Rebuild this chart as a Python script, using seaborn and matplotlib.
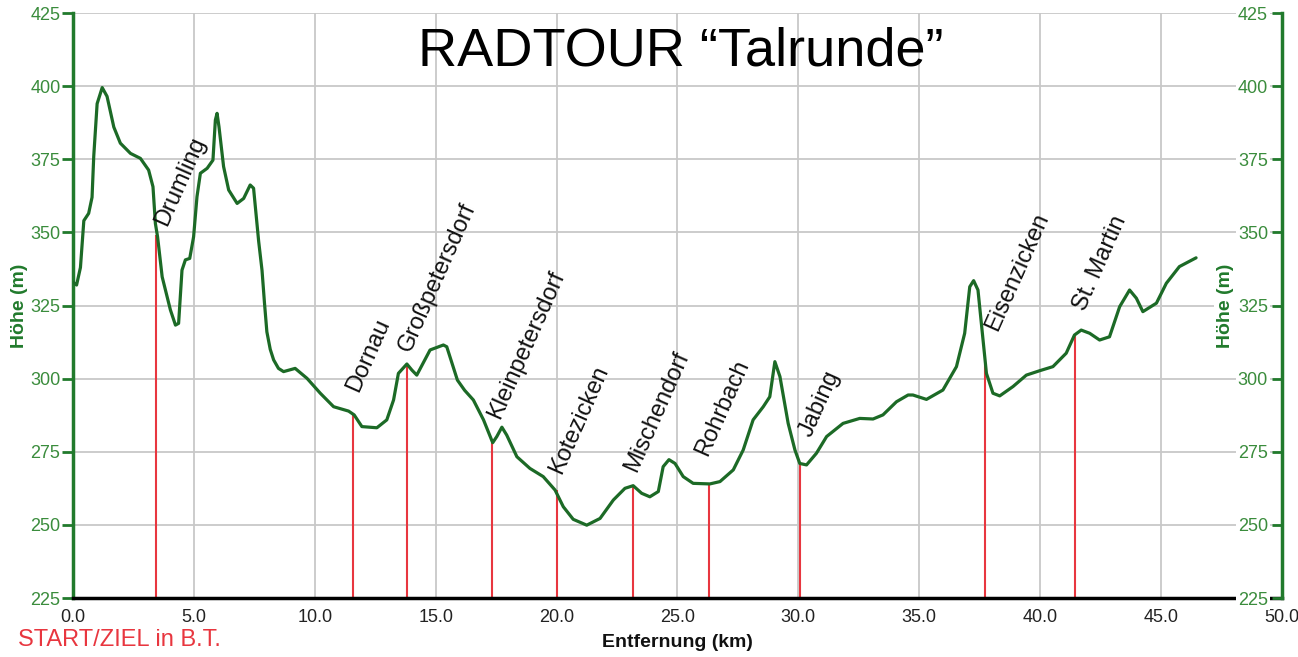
import matplotlib
matplotlib.use('Agg')
import matplotlib.pyplot as plt
from matplotlib import font_manager
import numpy as np
import pandas as pd
import seaborn as sb

sb.set_style("white")
plt.rcParams['font.family'] = ['Liberation Sans', 'DejaVu Sans']

# elevation profile (km, m)
dist_km = [0.0, 0.15, 0.31, 0.45, 0.65, 0.79, 0.86, 1.0, 1.21, 1.41, 1.69, 1.96,
           2.38, 2.79, 3.13, 3.31, 3.41, 3.5, 3.69, 4.03, 4.24, 4.37, 4.51, 4.65,
           4.83, 4.99, 5.13, 5.27, 5.55, 5.79, 5.89, 5.96, 6.04, 6.23, 6.44, 6.79,
           7.06, 7.33, 7.47, 7.61, 7.68, 7.82, 7.92, 8.02, 8.16, 8.3, 8.5, 8.71,
           9.19, 9.68, 10.23, 10.78, 11.4, 11.63, 11.95, 12.57, 12.98, 13.26, 13.46,
           13.81, 14.02, 14.22, 14.77, 15.32, 15.46, 15.9, 16.2, 16.56, 16.98, 17.36,
           17.53, 17.74, 17.94, 18.36, 18.9, 19.45, 19.94, 20.28, 20.69, 21.25, 21.8,
           22.35, 22.83, 23.17, 23.52, 23.86, 24.21, 24.41, 24.65, 24.9, 25.24, 25.65,
           26.34, 26.76, 27.31, 27.72, 28.13, 28.55, 28.82, 29.03, 29.24, 29.58, 29.86,
           30.06, 30.34, 30.75, 31.17, 31.85, 32.54, 33.09, 33.5, 34.06, 34.54, 34.74,
           35.3, 35.98, 36.54, 36.88, 37.09, 37.25, 37.43, 37.64, 37.78, 38.05, 38.33,
           38.88, 39.43, 39.98, 40.53, 41.08, 41.42, 41.7, 42.05, 42.46, 42.87, 43.29,
           43.7, 43.98, 44.25, 44.81, 45.22, 45.76, 46.45]
hoehe_m = [333, 332, 338, 354, 356.5, 362, 376, 394, 399.5, 396.5, 386, 380.5,
           377, 375.3, 371.3, 365.6, 353, 348.5, 334.8, 323.5, 318.3, 318.9, 337.1, 340.6,
           341.1, 348.5, 362.2, 370.2, 371.9, 374.7, 388.4, 390.7, 386.1, 372.5, 364.5, 359.9,
           361.6, 366.2, 365.1, 353.1, 347, 337, 326, 316, 310, 306.4, 303.5, 302.4,
           303.5, 300.1, 295.0, 290.4, 288.9, 287.6, 283.6, 283.2, 285.9, 292.7, 301.8,
           305.0, 302.9, 301.2, 309.8, 311.5, 310.9, 299.5, 296, 292.7, 285.9, 278.1,
           280.2, 283.4, 280.7, 273.3, 269.3, 266.5, 261.9, 256.2, 251.9, 249.9, 252.2,
           258.5, 262.5, 263.4, 260.8, 259.6, 261.4, 269.9, 272.3, 271.0, 266.5, 264.2,
           264.0, 264.8, 268.8, 275.6, 285.9, 290.4, 293.8, 305.8, 300.7, 284.7, 275.6,
           271.0, 270.5, 274.5, 280.2, 284.7, 286.4, 286.2, 287.6, 292.1, 294.4, 294.4,
           292.9, 296.1, 304.1, 315.5, 331.4, 333.5, 330.3, 313.2, 301.8, 295.0, 294.1,
           297.3, 301.2, 302.7, 304.1, 308.7, 314.9, 316.6, 315.5, 313.2, 314.3, 324.6,
           330.3, 327.5, 322.9, 325.8, 332.6, 338.3, 341.3]

orte = ["Drumling", "Dornau", "Großpetersdorf", "Kleinpetersdorf", "Kotezicken",
        "Mischendorf", "Rohrbach", "Jabing", "Eisenzicken", "St. Martin"]
orte_km = [3.45, 11.6, 13.8, 17.35, 20.0, 23.15, 26.3, 30.05, 37.7, 41.45]
orte_hoehe = [349, 288, 305, 278, 262, 263.5, 264, 271, 305, 315]

# where each name starts, in pixels from the top of its red line
label_dx = [10, 5, 4, 7, 5, 3, -2, 12, 13, 10]
label_dy = [8, 21, 11, 23, 15, 12, 27, 25, 32, 23]

LINE_GREEN = "#1c6a26"
AXIS_GREEN = "#217a2c"
TICK_GREEN = "#3a8c3c"
RED = "#e8363f"

names = {f.name for f in font_manager.fontManager.ttflist}
tick_font = ['Liberation Sans Narrow'] if 'Liberation Sans Narrow' in names else ['Liberation Sans']

fig = plt.figure(figsize=(12.98, 6.57), dpi=100)
ax = fig.add_axes([0.0562, 0.0898, 0.9314, 0.8904])

df = pd.DataFrame({"km": dist_km, "m": hoehe_m})
ax.vlines(orte_km, 225, orte_hoehe, color=RED, lw=1.5, zorder=2)
sb.lineplot(data=df, x="km", y="m", ax=ax, color=LINE_GREEN, lw=2.3,
            estimator=None, sort=False, zorder=3)

for name, km, h, dx, dy in zip(orte, orte_km, orte_hoehe, label_dx, label_dy):
    ax.annotate(name, xy=(km, h), xytext=(dx * 0.72, dy * 0.72), textcoords="offset points",
                rotation=66, rotation_mode="anchor", ha="left", va="baseline",
                fontsize=17, color="#111111", zorder=4)

ax.set_xlim(0, 50)
ax.set_ylim(225, 425)
xt = np.arange(0, 50.1, 5)
ax.set_xticks(xt)
ax.set_xticklabels(["{:.1f}".format(v) for v in xt], family=tick_font)
yt = np.arange(225, 426, 25)
ax.set_yticks(yt)
ax.set_yticklabels([str(v) for v in yt], family=tick_font)
ax.grid(True, color="#c8c8c8", lw=1.3)
ax.set_axisbelow(True)
for s in ["top", "right"]:
    ax.spines[s].set_visible(False)
ax.spines["left"].set_color(AXIS_GREEN)
ax.spines["left"].set_linewidth(2.5)
ax.spines["bottom"].set_color("black")
ax.spines["bottom"].set_linewidth(2.5)
ax.tick_params(axis="x", direction="out", length=6, width=2, color="black",
               labelcolor="#222222", labelsize=13, pad=2)
ax.tick_params(axis="y", direction="out", length=8, width=2, color=AXIS_GREEN,
               labelcolor=TICK_GREEN, labelsize=13, pad=1)

ax.set_xlabel("Entfernung (km)", fontsize=14, fontweight="bold", color="#111111")
ax.xaxis.set_label_coords(0.5, -0.062)
ax.set_ylabel("Höhe (m)", fontsize=14, fontweight="bold", color=AXIS_GREEN)
ax.yaxis.set_label_coords(-0.037, 0.5)

# right hand axis, labels inside the plot
ax2 = ax.twinx()
ax2.set_ylim(225, 425)
ax2.set_yticks(yt)
ax2.set_yticklabels([str(v) for v in yt], ha="right", family=tick_font,
                    bbox=dict(facecolor="white", edgecolor="none", pad=1))
ax2.tick_params(axis="y", direction="in", length=7, width=2, color=AXIS_GREEN,
                labelcolor=TICK_GREEN, labelsize=13, pad=-10)
ax2.grid(False)
for s in ["top", "left", "bottom"]:
    ax2.spines[s].set_visible(False)
ax2.spines["right"].set_color(AXIS_GREEN)
ax2.spines["right"].set_linewidth(2.5)
ax2.set_ylabel("Höhe (m)", fontsize=14, fontweight="bold", color=AXIS_GREEN)
ax2.yaxis.set_label_coords(0.946, 0.5)
ax2.yaxis.label.set_bbox(dict(facecolor="white", edgecolor="none", pad=2))

ax.text(0.503, 0.911, "RADTOUR \u201cTalrunde\u201d", transform=ax.transAxes,
        ha="center", va="baseline", fontsize=39, color="black")
fig.text(0.014, 0.017, "START/ZIEL in B.T.", color=RED, fontsize=17)

plt.savefig("out.png", dpi=100)
plt.close()
